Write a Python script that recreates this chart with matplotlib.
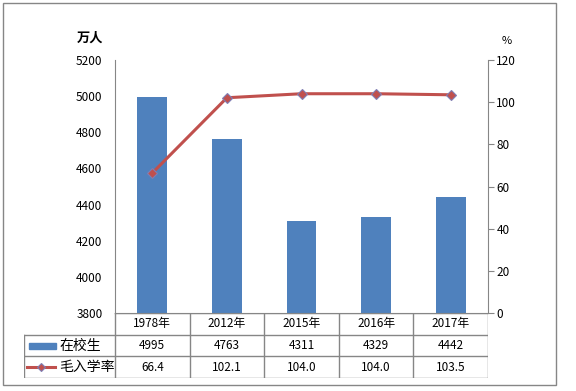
import numpy as np
import matplotlib.pyplot as plt
from matplotlib.patches import Rectangle
from matplotlib.lines import Line2D

plt.rcParams['font.family'] = ['Noto Sans CJK SC', 'DejaVu Sans']

years = ['1978年', '2012年', '2015年', '2016年', '2017年']
students = [4995, 4763, 4311, 4329, 4442]
rate = [66.4, 102.1, 104.0, 104.0, 103.5]
bar_name = '在校生'
line_name = '毛入学率'

W, H = 576, 391
fig = plt.figure(figsize=(W / 100, H / 100), dpi=100)

def fx(px):
    return px / W

def fy(py):
    return 1 - py / H

bar_c = '#4F81BD'
line_c = '#C0504D'
grid_c = '#868686'
fs = 8.5

# outer border
fig.add_artist(Rectangle((fx(3), fy(385)), fx(553), (382) / H, transform=fig.transFigure,
                         fill=False, edgecolor=grid_c, lw=1))

ax = fig.add_axes([fx(115), fy(313), fx(488 - 115), (313 - 60) / H])
x = np.arange(len(years))
ax.bar(x, students, width=0.4, color=bar_c, zorder=2)
ax.set_xlim(-0.5, len(years) - 0.5)
ax.set_ylim(3800, 5200)
ax.set_yticks(np.arange(3800, 5201, 200))
ax.set_xticks([])
ax.tick_params(axis='y', length=0, pad=9, labelsize=fs)
for s in ['top', 'right']:
    ax.spines[s].set_visible(False)
for s in ['left', 'bottom']:
    ax.spines[s].set_color(grid_c)

ax2 = ax.twinx()
ax2.plot(x, rate, color=line_c, lw=2.2, marker='D', ms=5, mfc=line_c, mec='#7F7FB5', mew=0.8, zorder=3)
ax2.set_ylim(0, 120)
ax2.set_yticks(np.arange(0, 121, 20))
ax2.tick_params(axis='y', length=4, color=grid_c, pad=2, labelsize=fs)
for s in ['top', 'left', 'bottom']:
    ax2.spines[s].set_visible(False)
ax2.spines['right'].set_color(grid_c)

fig.text(fx(90), fy(38), '万人', ha='center', va='center', fontsize=9.5, fontweight='bold')
fig.text(fx(507), fy(41), '%', ha='center', va='center', fontsize=8)

# data table
legw = (115 - 24) / ((488 - 115) / len(years))
tab = fig.add_axes([fx(24), fy(378), fx(488 - 24), (378 - 313) / H])
tab.set_xlim(-0.5 - legw, len(years) - 0.5)
tab.set_ylim(3, 0)
tab.axis('off')
n = len(years)
for i in range(n + 1):
    tab.plot([i - 0.5, i - 0.5], [0, 3], color=grid_c, lw=1)
tab.plot([-0.5 - legw, -0.5 - legw], [1, 3], color=grid_c, lw=1)
tab.plot([-0.5, n - 0.5], [0, 0], color=grid_c, lw=1)
for r in [1, 2, 3]:
    tab.plot([-0.5 - legw, n - 0.5], [r, r], color=grid_c, lw=1)
for i in range(n):
    tab.text(i, 0.5, years[i], ha='center', va='center', fontsize=fs)
    tab.text(i, 1.5, str(students[i]), ha='center', va='center', fontsize=fs)
    tab.text(i, 2.5, f'{rate[i]:.1f}', ha='center', va='center', fontsize=fs)
x0 = -0.5 - legw
tab.add_patch(Rectangle((x0 + 0.07, 1.38), 0.36, 0.26, color=bar_c))
tab.add_line(Line2D([x0 + 0.04, x0 + 0.42], [2.5, 2.5], color=line_c, lw=2.2,
                    marker=None))
tab.plot([x0 + 0.23], [2.5], marker='D', ms=4, mfc=line_c, mec='#7F7FB5', mew=0.8)
tab.text(x0 + 0.47, 1.5, bar_name, ha='left', va='center', fontsize=10)
tab.text(x0 + 0.47, 2.5, line_name, ha='left', va='center', fontsize=10)

fig.savefig('out.png', dpi=100)
